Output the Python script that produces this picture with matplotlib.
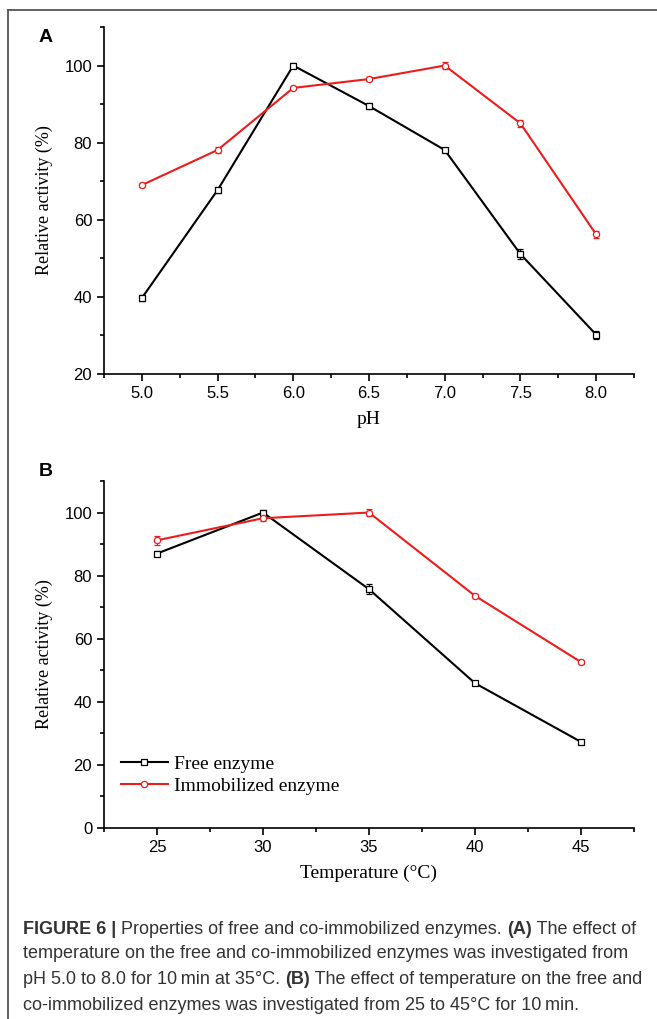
import matplotlib
matplotlib.use('Agg')
import matplotlib.pyplot as plt
from matplotlib.ticker import MultipleLocator
from matplotlib.lines import Line2D

# panel A : pH
ph = [5.0, 5.5, 6.0, 6.5, 7.0, 7.5, 8.0]
ph_free = [39.7, 67.7, 100.0, 89.5, 78.1, 51.1, 30.2]
ph_free_err = [0.8, 0.8, 0.6, 0.8, 0.6, 1.2, 1.0]
ph_imm = [69.0, 78.1, 94.2, 96.5, 100.0, 85.0, 56.2]
ph_imm_err = [0.5, 0.8, 0.4, 0.5, 1.0, 1.0, 1.0]

# panel B : temperature
temp = [25, 30, 35, 40, 45]
t_free = [87.0, 100.0, 75.7, 45.9, 27.3]
t_free_err = [0.8, 0.8, 1.5, 0.5, 0.5]
t_imm = [91.2, 98.2, 100.0, 73.6, 52.6]
t_imm_err = [1.5, 0.8, 1.0, 0.6, 0.6]

labels = ['Free enzyme', 'Immobilized enzyme']

caption = [
  [('FIGURE 6 | ', 'bold'), ('Properties of free and co-immobilized enzymes. ', 'normal'),
   ('(A)', 'bold'), (' The effect of', 'normal')],
  [('temperature on the free and co-immobilized enzymes was investigated from', 'normal')],
  [('pH 5.0 to 8.0 for 10\u2009min at 35\u00b0C. ', 'normal'), ('(B)', 'bold'),
   (' The effect of temperature on the free and', 'normal')],
  [('co-immobilized enzymes was investigated from 25 to 45\u00b0C for 10\u2009min.', 'normal')],
]

W, H = 657, 1019
serif = 'Liberation Serif'
sans = 'Liberation Sans'
RED = '#ec1c1c'

fig = plt.figure(figsize=(W/100, H/100), dpi=100)

# frame lines (top and left)
fig.add_artist(Line2D([8/W, 1.0], [1-10/H, 1-10/H], color='#555555', lw=1.3))
fig.add_artist(Line2D([8/W, 8/W], [0, 1-10/H], color='#555555', lw=1.3))

def style_ax(ax):
  for s in ['top', 'right']:
    ax.spines[s].set_visible(False)
  for s in ['left', 'bottom']:
    ax.spines[s].set_linewidth(1.2)
  ax.tick_params(which='major', direction='out', length=5, width=1.2, labelsize=12)
  ax.tick_params(which='minor', direction='out', length=3, width=1.2)
  for t in ax.get_xticklabels() + ax.get_yticklabels():
    t.set_fontfamily(sans)

def draw(ax, x, y1, e1, y2, e2):
  ax.errorbar(x, y1, yerr=e1, color='black', lw=1.5, marker='s', ms=4.5,
              mfc='white', mec='black', mew=0.9, capsize=2.5, elinewidth=0.9,
              capthick=0.9, label=labels[0])
  ax.errorbar(x, y2, yerr=e2, color=RED, lw=1.5, marker='o', ms=4.5,
              mfc='white', mec=RED, mew=0.9, capsize=2.5, elinewidth=0.9,
              capthick=0.9, label=labels[1])

axA = fig.add_axes([104/W, 1-374/H, 530/W, 347/H])
draw(axA, ph, ph_free, ph_free_err, ph_imm, ph_imm_err)
axA.set_xlim(4.75, 8.25)
axA.set_ylim(20, 110)
axA.xaxis.set_minor_locator(MultipleLocator(0.25))
axA.yaxis.set_major_locator(MultipleLocator(20))
axA.yaxis.set_minor_locator(MultipleLocator(10))
axA.set_xticks(ph)
axA.set_xticklabels(['%.1f' % v for v in ph])
style_ax(axA)
axA.set_xlabel('pH', fontfamily=serif, fontsize=14, va='center')
axA.xaxis.set_label_coords(0.5, (374-420)/347)
axA.set_ylabel('Relative activity (%)', fontfamily=serif, fontsize=13, va='center')
axA.yaxis.set_label_coords((44-104)/530, 0.5)

axB = fig.add_axes([104/W, 1-828/H, 530/W, 347/H])
draw(axB, temp, t_free, t_free_err, t_imm, t_imm_err)
axB.set_xlim(22.5, 47.5)
axB.set_ylim(0, 110)
axB.xaxis.set_major_locator(MultipleLocator(5))
axB.xaxis.set_minor_locator(MultipleLocator(2.5))
axB.yaxis.set_major_locator(MultipleLocator(20))
axB.yaxis.set_minor_locator(MultipleLocator(10))
style_ax(axB)
axB.set_xlabel('Temperature (\u00b0C)', fontfamily=serif, fontsize=14, va='center')
axB.xaxis.set_label_coords(0.5, (828-873)/347)
axB.set_ylabel('Relative activity (%)', fontfamily=serif, fontsize=13, va='center')
axB.yaxis.set_label_coords((44-104)/530, 0.5)
h, l = axB.get_legend_handles_labels()
h = [hh[0] for hh in h]
axB.legend(h, l, loc='upper left', bbox_to_anchor=((121-104)/530, (828-755)/347),
           frameon=False, prop={'family': serif, 'size': 14}, handlelength=2.4,
           handletextpad=0.3, labelspacing=0.25, borderaxespad=0, borderpad=0)

fig.text(46/W, 1-37/H, 'A', fontfamily=sans, fontweight='bold', fontsize=14,
         ha='center', va='center')
fig.text(46/W, 1-472/H, 'B', fontfamily=sans, fontweight='bold', fontsize=14,
         ha='center', va='center')

# caption with mixed weights
renderer = fig.canvas.get_renderer()
ys = [929, 954, 980, 1005]
for line, yy in zip(caption, ys):
  x = 23
  for txt, wt in line:
    t = fig.text(x/W, 1-yy/H, txt, fontfamily=sans, fontweight=wt, fontsize=12.95,
                 color='#333333', ha='left', va='center')
    bb = t.get_window_extent(renderer)
    x += bb.width

fig.savefig('out.png', dpi=100)
